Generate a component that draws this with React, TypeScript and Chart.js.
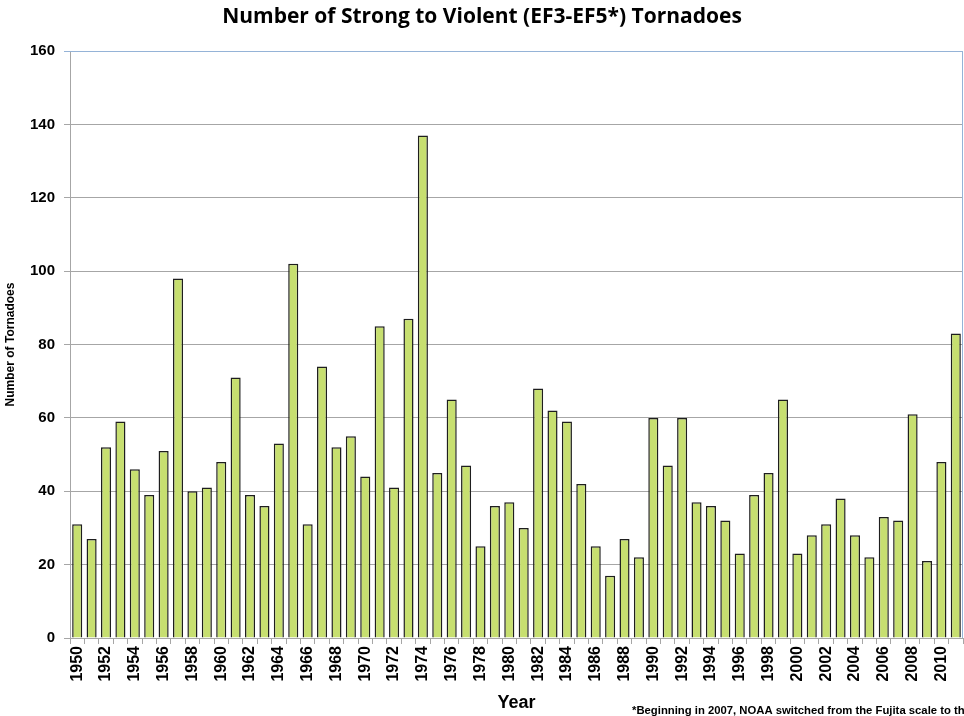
import React, { useEffect, useRef } from "react";
import { Chart, registerables } from "chart.js";

Chart.register(...registerables);

const years: string[] = [
  "1950","1951","1952","1953","1954","1955","1956","1957","1958","1959",
  "1960","1961","1962","1963","1964","1965","1966","1967","1968","1969",
  "1970","1971","1972","1973","1974","1975","1976","1977","1978","1979",
  "1980","1981","1982","1983","1984","1985","1986","1987","1988","1989",
  "1990","1991","1992","1993","1994","1995","1996","1997","1998","1999",
  "2000","2001","2002","2003","2004","2005","2006","2007","2008","2009",
  "2010","2011",
];

const tornadoes: number[] = [
  31, 27, 52, 59, 46, 39, 51, 98, 40, 41,
  48, 71, 39, 36, 53, 102, 31, 74, 52, 55,
  44, 85, 41, 87, 137, 45, 65, 47, 25, 36,
  37, 30, 68, 62, 59, 42, 25, 17, 27, 22,
  60, 47, 60, 37, 36, 32, 23, 39, 45, 65,
  23, 28, 31, 38, 28, 22, 33, 32, 61, 21,
  48, 83,
];

const yTicks: number[] = [0, 20, 40, 60, 80, 100, 120, 140, 160];

const titleText = "Number of Strong to Violent (EF3-EF5*) Tornadoes";
const footnoteText =
  "*Beginning in 2007, NOAA switched from the Fujita scale to the Enhanced Fujita scale.";

const decorPlugin = {
  id: "decor",
  afterDraw(chart: any) {
    const { ctx, chartArea } = chart;
    ctx.save();
    ctx.fillStyle = "#000";
    ctx.font = "bold 21px 'Open Sans', 'Liberation Sans', sans-serif";
    ctx.textAlign = "center";
    ctx.textBaseline = "middle";
    ctx.fillText(titleText, 482, 17);
    ctx.strokeStyle = "#95b3d7";
    ctx.lineWidth = 1;
    ctx.beginPath();
    ctx.moveTo(chartArea.left, chartArea.top + 0.5);
    ctx.lineTo(chartArea.right - 0.5, chartArea.top + 0.5);
    ctx.lineTo(chartArea.right - 0.5, chartArea.bottom);
    ctx.stroke();
    ctx.fillStyle = "#000";
    ctx.font = "bold 11.3px 'Liberation Sans', Arial, sans-serif";
    ctx.textAlign = "left";
    ctx.textBaseline = "middle";
    ctx.fillText(footnoteText, 632, 711);
    ctx.restore();
  },
};

export default function App() {
  const canvasRef = useRef<HTMLCanvasElement | null>(null);

  useEffect(() => {
    if (!canvasRef.current) return;
    const chart = new Chart(canvasRef.current, {
      type: "bar",
      data: {
        labels: years,
        datasets: [
          {
            label: "Tornadoes",
            data: tornadoes,
            backgroundColor: "#c7df70",
            borderColor: "#1e1e1e",
            borderWidth: 1.5,
            barPercentage: 0.7,
            categoryPercentage: 1,
          },
        ],
      },
      options: {
        animation: false,
        responsive: true,
        maintainAspectRatio: false,
        layout: { padding: { top: 51, right: 1, left: 0, bottom: 0 } },
        plugins: {
          legend: { display: false },
          title: { display: false },
          tooltip: { enabled: false },
        },
        scales: {
          x: {
            grid: {
              drawOnChartArea: false,
              drawTicks: true,
              tickLength: 6,
              color: "#a6a6a6",
              offset: true,
            },
            border: { display: true, color: "#a6a6a6" },
            ticks: {
              autoSkip: false,
              maxRotation: 90,
              minRotation: 90,
              padding: 2,
              color: "#000",
              font: { family: "'Liberation Sans', Arial, sans-serif", size: 16, weight: "bold" },
              callback: (_v: any, i: number) => (i % 2 === 0 ? years[i] : ""),
            },
            title: {
              display: true,
              text: "Year",
              color: "#000",
              font: { family: "'Liberation Sans', Arial, sans-serif", size: 18, weight: "bold" },
              padding: { top: 0, bottom: 2 },
            },
            afterFit: (scale: any) => {
              scale.height = 78;
              scale.paddingLeft = 0;
              scale.paddingRight = 0;
            },
          },
          y: {
            min: 0,
            max: 160,
            afterBuildTicks: (scale: any) => {
              scale.ticks = yTicks.map((v) => ({ value: v }));
            },
            grid: {
              color: (c: any) => (c.tick && c.tick.value === 160 ? "#95b3d7" : "#a6a6a6"),
              lineWidth: 1,
              tickLength: 6,
            },
            border: { display: true, color: "#a6a6a6" },
            ticks: {
              color: "#000",
              padding: 9,
              font: { family: "'Liberation Sans', Arial, sans-serif", size: 15, weight: "bold" },
            },
            title: {
              display: true,
              text: "Number of Tornadoes",
              color: "#000",
              font: { family: "'Liberation Sans', Arial, sans-serif", size: 12, weight: "bold" },
              padding: { top: 3, bottom: 0 },
            },
            afterFit: (scale: any) => {
              scale.width = 70;
            },
          },
        },
      },
      plugins: [decorPlugin],
    });
    return () => chart.destroy();
  }, []);

  return (
    <div
      style={{
        position: "fixed",
        left: 0,
        top: 0,
        width: 964,
        height: 716,
        background: "#fff",
        overflow: "hidden",
      }}
    >
      <canvas ref={canvasRef} />
    </div>
  );
}
